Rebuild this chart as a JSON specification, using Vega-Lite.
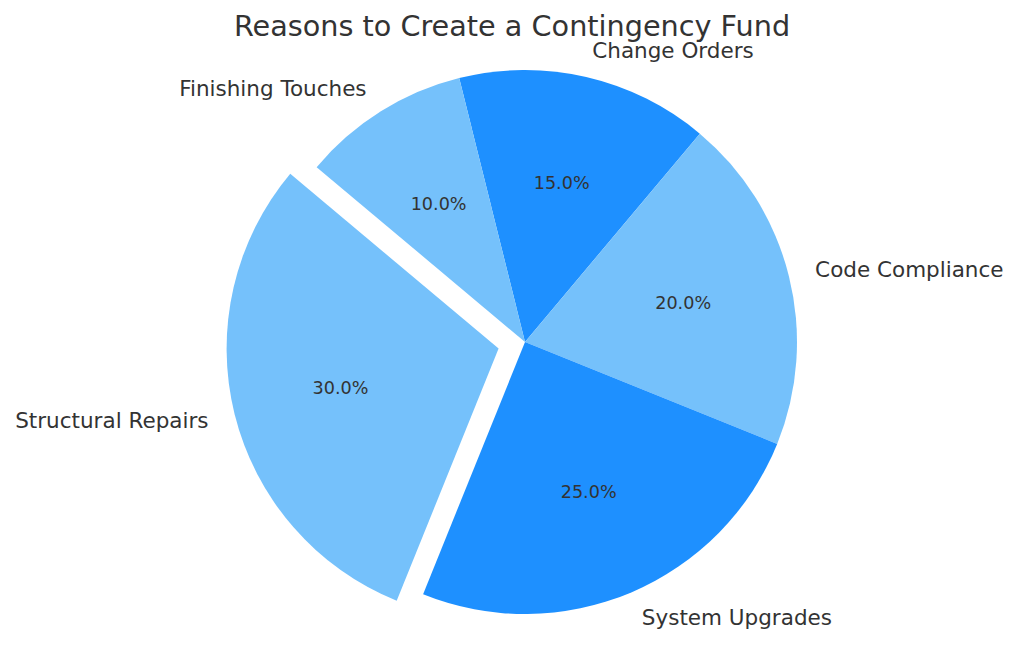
{
  "$schema": "https://vega.github.io/schema/vega-lite/v6.json",
  "width": 998,
  "height": 622,
  "autosize": {"type": "none"},
  "padding": {"left": 26, "top": 31, "right": 0, "bottom": 0},
  "background": "white",
  "title": {
    "text": "Reasons to Create a Contingency Fund",
    "font": "DejaVu Sans",
    "fontSize": 28.7,
    "fontWeight": "normal",
    "color": "#333333",
    "anchor": "middle",
    "dx": -13,
    "offset": -11
  },
  "data": {
    "values": [
      {"category": "Change Orders", "value": 15, "rank": 1, "pct": "15.0%"},
      {"category": "Code Compliance", "value": 20, "rank": 2, "pct": "20.0%"},
      {"category": "System Upgrades", "value": 25, "rank": 3, "pct": "25.0%"},
      {"category": "Structural Repairs", "value": 30, "rank": 4, "pct": "30.0%"},
      {"category": "Finishing Touches", "value": 10, "rank": 5, "pct": "10.0%"}
    ]
  },
  "encoding": {
    "theta": {"field": "value", "type": "quantitative", "stack": true, "scale": {"range": [-0.24435, 6.03884]}},
    "order": {"field": "rank", "type": "quantitative"}
  },
  "config": {"view": {"stroke": null}, "text": {"font": "DejaVu Sans", "fill": "#333333"}},
  "layer": [
    {
      "mark": {"type": "arc", "outerRadius": 272},
      "encoding": {
        "color": {"field": "category", "type": "nominal", "legend": null,
          "scale": {"domain": ["Change Orders", "Code Compliance", "System Upgrades", "Structural Repairs", "Finishing Touches"],
                    "range": ["#1E90FF", "#75C1FB", "#1E90FF", "#75C1FB", "#75C1FB"]}},
        "opacity": {"condition": {"test": "datum.category === 'Structural Repairs'", "value": 0}, "value": 1}
      }
    },
    {
      "mark": {"type": "arc", "outerRadius": 272, "xOffset": -26.4, "yOffset": 6.6},
      "encoding": {
        "color": {"field": "category", "type": "nominal", "legend": null},
        "opacity": {"condition": {"test": "datum.category === 'Structural Repairs'", "value": 1}, "value": 0}
      }
    },
    {
      "mark": {"type": "text", "radius": 299, "align": "left", "baseline": "middle", "fontSize": 21.5, "dy": 1.5},
      "encoding": {
        "text": {"condition": {"test": "datum.rank <= 3", "field": "category"}, "value": ""}
      }
    },
    {
      "mark": {"type": "text", "radius": 299, "align": "right", "baseline": "middle", "fontSize": 21.5, "dy": 1.5},
      "encoding": {
        "text": {"condition": {"test": "datum.category === 'Finishing Touches'", "field": "category"}, "value": ""}
      }
    },
    {
      "mark": {"type": "text", "radius": 299, "align": "right", "baseline": "middle", "fontSize": 21.5, "dy": 1.5, "xOffset": -26.4, "yOffset": 6.6},
      "encoding": {
        "text": {"condition": {"test": "datum.category === 'Structural Repairs'", "field": "category"}, "value": ""}
      }
    },
    {
      "mark": {"type": "text", "radius": 163, "align": "center", "baseline": "middle", "fontSize": 17.6, "dy": 1},
      "encoding": {
        "text": {"condition": {"test": "datum.category !== 'Structural Repairs'", "field": "pct"}, "value": ""}
      }
    },
    {
      "mark": {"type": "text", "radius": 163, "align": "center", "baseline": "middle", "fontSize": 17.6, "dy": 1, "xOffset": -26.4, "yOffset": 6.6},
      "encoding": {
        "text": {"condition": {"test": "datum.category === 'Structural Repairs'", "field": "pct"}, "value": ""}
      }
    }
  ]
}
